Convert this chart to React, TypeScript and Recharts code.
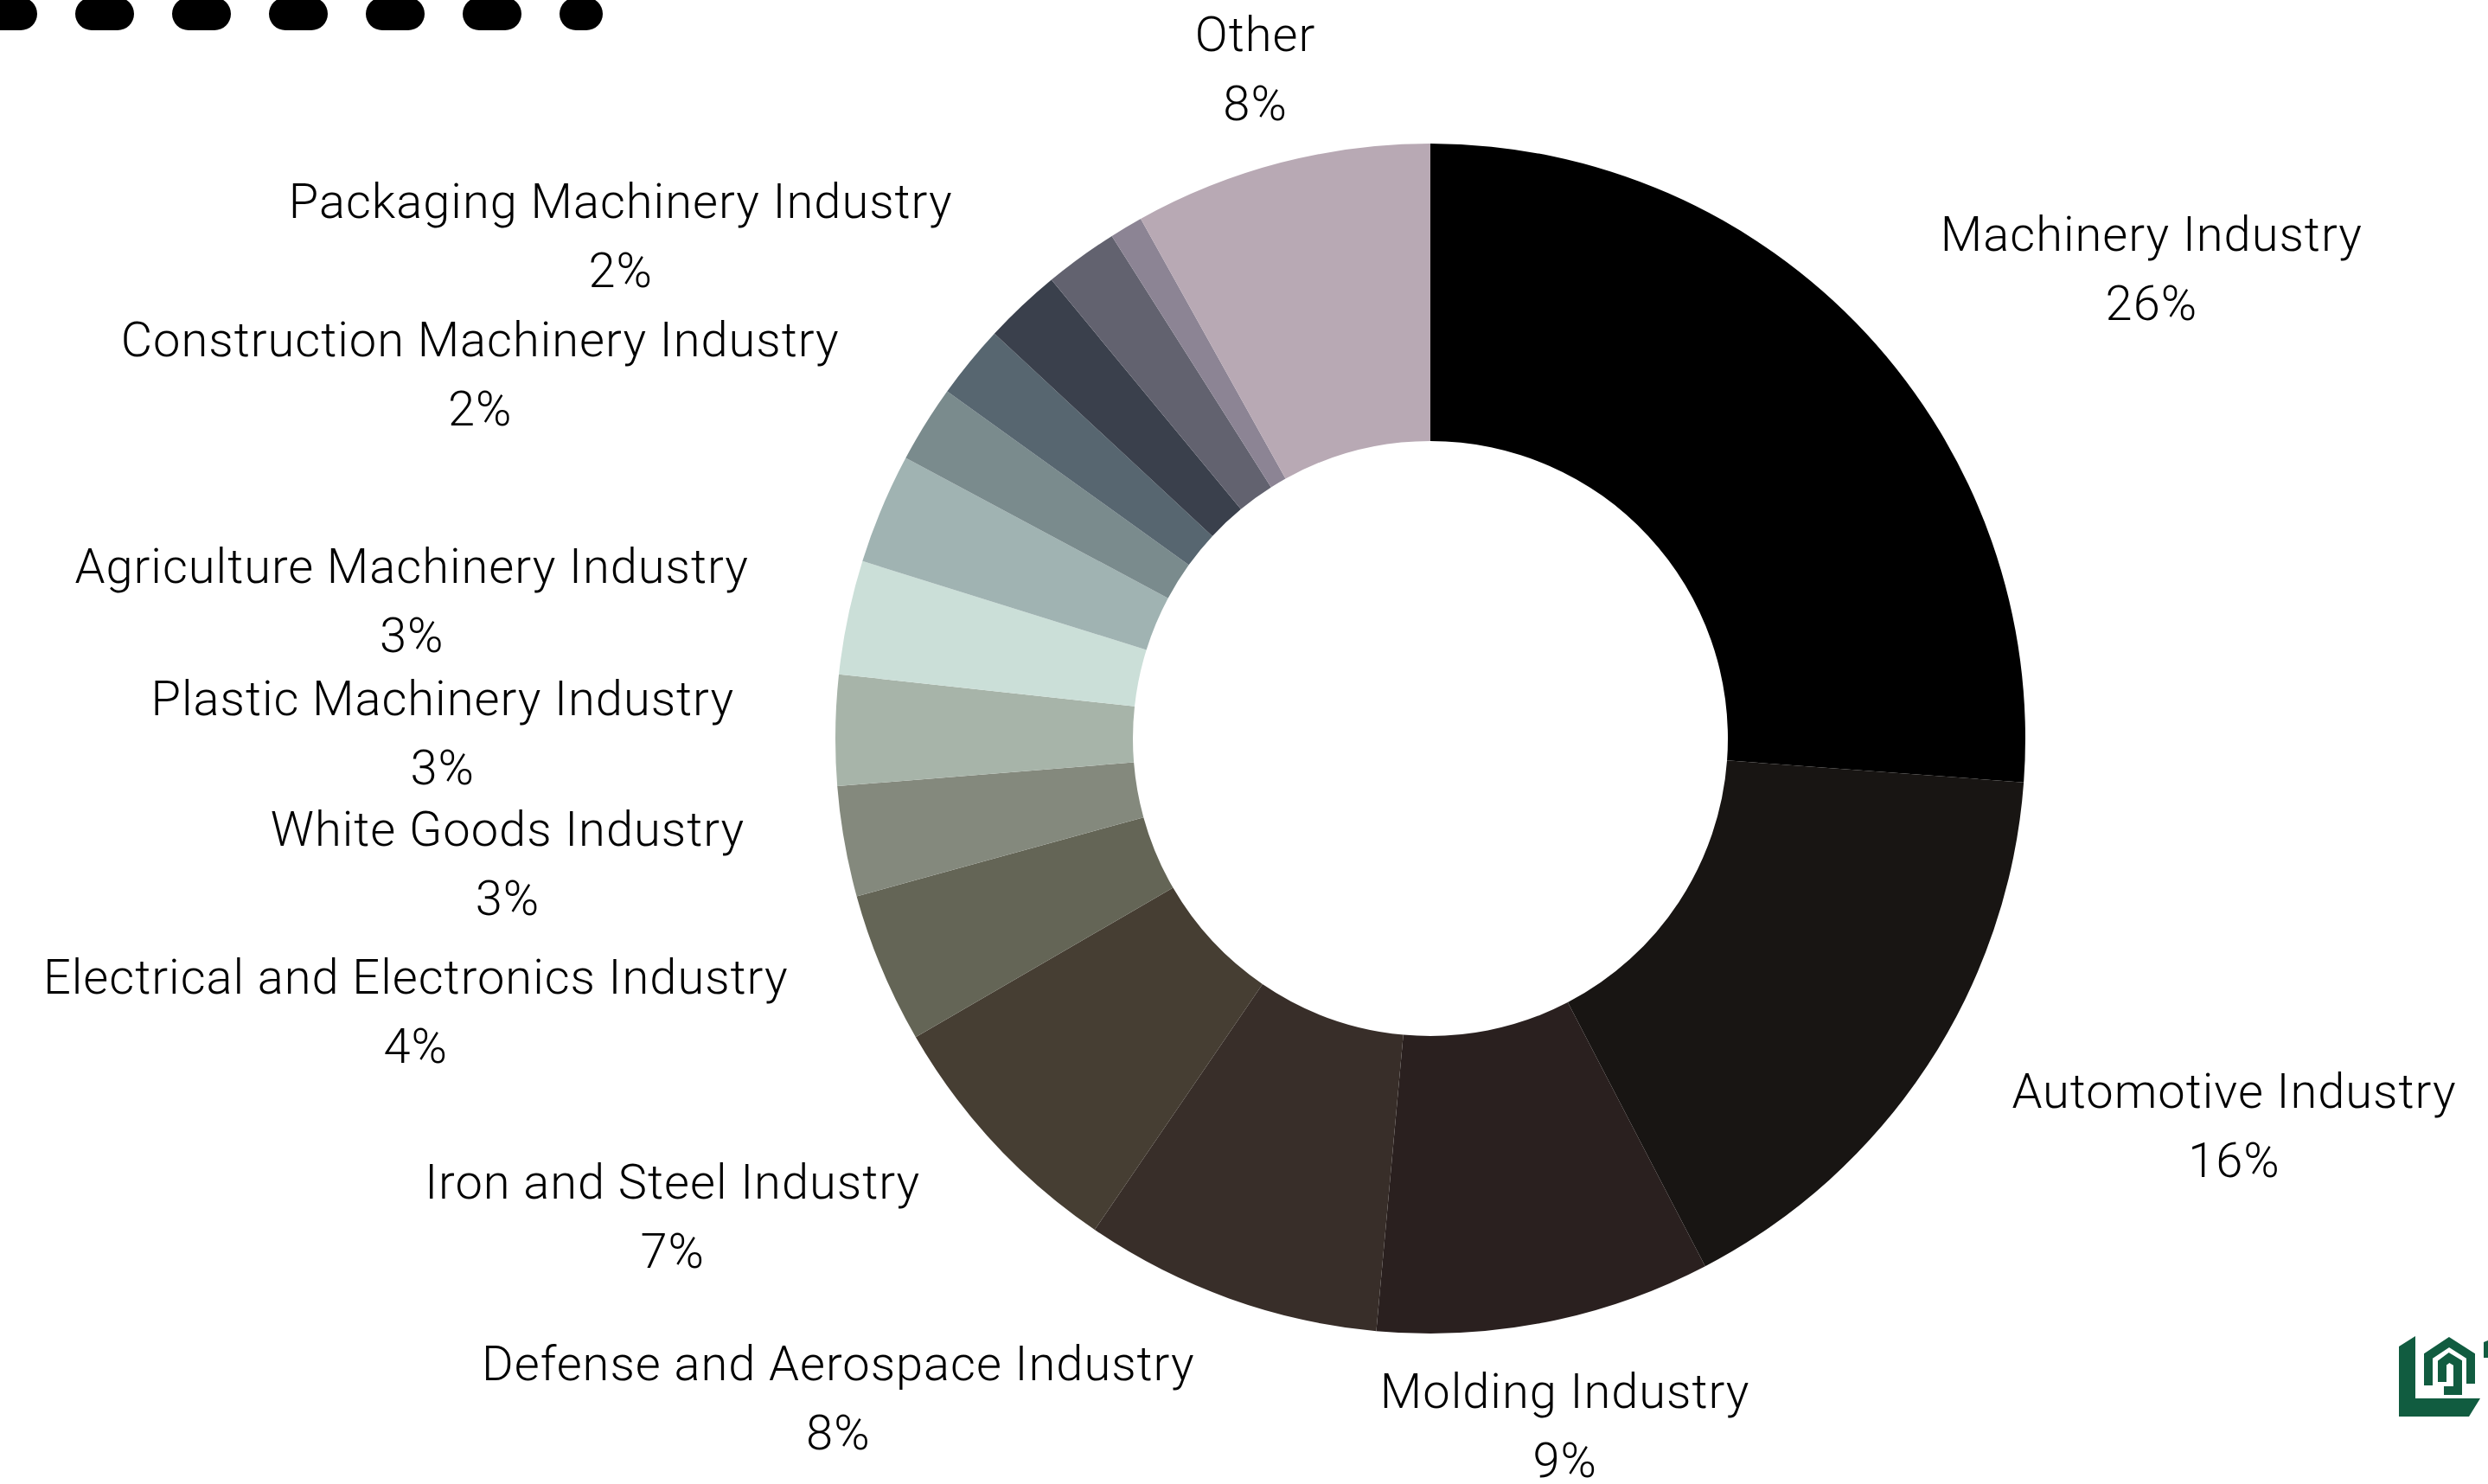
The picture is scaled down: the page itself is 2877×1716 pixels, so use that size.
import React from "react";
import { PieChart, Pie, Cell } from "recharts";

// slices clockwise from 12 o'clock; empty name = slice drawn without a label
const sliceNames = [
  "Machinery Industry",
  "Automotive Industry",
  "Molding Industry",
  "Defense and Aerospace Industry",
  "Iron and Steel Industry",
  "Electrical and Electronics Industry",
  "White Goods Industry",
  "Plastic Machinery Industry",
  "Agriculture Machinery Industry",
  "",
  "Construction Machinery Industry",
  "",
  "Packaging Machinery Industry",
  "",
  "",
  "Other",
];

const sliceShares = [26.2, 16.2, 9.1, 8.1, 7.1, 4.1, 3.0, 3.0, 3.1, 3.0, 2.1, 2.0, 2.1, 2.0, 0.9, 8.1];

const sliceColors = [
  "#000000",
  "#181513",
  "#2a201f",
  "#382e29",
  "#463e33",
  "#646556",
  "#84897d",
  "#a7b4a9",
  "#cbdfd8",
  "#a0b3b2",
  "#7a8b8d",
  "#576670",
  "#3a404c",
  "#62626f",
  "#8c8494",
  "#b8a9b4",
];

const W = 2877;
const H = 1716;
const FONT = "Roboto, 'Open Sans', sans-serif";
const FONT_SIZE = 56;
const LETTER_SPACING = 1;
const LINE_GAP = 80;
const LABEL_OFFSET = 117;
const BASELINE_NUDGE = 5;
const RAD = Math.PI / 180;

let ctx: CanvasRenderingContext2D | null = null;
function textWidth(s: string): number {
  if (!ctx) ctx = document.createElement("canvas").getContext("2d");
  if (!ctx) return s.length * FONT_SIZE * 0.5;
  ctx.font = `300 ${FONT_SIZE}px Roboto`;
  return ctx.measureText(s).width + s.length * LETTER_SPACING;
}

function renderLabel(props: any) {
  const { cx, cy, midAngle, outerRadius, percent, name } = props;
  if (!name) return null;
  const r = outerRadius + LABEL_OFFSET;
  const dx = Math.cos(-midAngle * RAD);
  const dy = Math.sin(-midAngle * RAD);
  const qx = cx + r * dx;
  const qy = cy + r * dy + BASELINE_NUDGE;
  const w = textWidth(name);
  let x = qx;
  if (dx > 0.3) x = qx + w / 2;
  else if (dx < -0.3) x = qx - w / 2;
  const style = {
    fontFamily: FONT,
    fontSize: FONT_SIZE,
    fontWeight: 300,
    letterSpacing: LETTER_SPACING,
    fill: "#000",
  };
  return (
    <g>
      <text x={x} y={qy - LINE_GAP / 2} textAnchor="middle" dominantBaseline="central" style={style}>
        {name}
      </text>
      <text x={x} y={qy + LINE_GAP / 2} textAnchor="middle" dominantBaseline="central" style={style}>
        {`${Math.round(percent * 100)}%`}
      </text>
    </g>
  );
}

export default function App() {
  const data = sliceNames.map((name, i) => ({ name, value: sliceShares[i] }));

  return (
    <div style={{ position: "absolute", left: 0, top: 0, width: W, height: H, background: "#fff", overflow: "hidden" }}>
      <PieChart width={W} height={H} margin={{ top: 0, right: 0, bottom: 0, left: 0 }}>
        <Pie
          data={data}
          dataKey="value"
          nameKey="name"
          cx={1654}
          cy={854}
          innerRadius={344}
          outerRadius={688}
          startAngle={90}
          endAngle={-270}
          stroke="none"
          label={renderLabel}
          labelLine={false}
          isAnimationActive={false}
        >
          {data.map((d, i) => (
            <Cell key={d.name + i} fill={sliceColors[i]} />
          ))}
        </Pie>
      </PieChart>

      {/* decorations: dashed bar top-left and cropped logo bottom-right */}
      <svg width={W} height={H} style={{ position: "absolute", left: 0, top: 0, pointerEvents: "none" }}>
        <line x1={-6} y1={16} x2={678} y2={16} stroke="#000" strokeWidth={38} strokeLinecap="round" strokeDasharray="30 82" />
        <g fill="#115c40">
          <polygon points="2774,1557 2793,1545 2793,1617 2868,1617 2855,1638 2774,1638" />
          <polygon points="2872,1552 2877,1550 2877,1570 2872,1570" />
        </g>
        <g fill="none" stroke="#115c40" strokeWidth={10} strokeLinejoin="miter">
          <polyline points="2808,1602 2808,1568 2832,1552 2857,1568 2857,1600" />
          <polyline points="2824,1598 2824,1576 2832,1570 2842,1576 2842,1608 2826,1608" />
        </g>
      </svg>
    </div>
  );
}
